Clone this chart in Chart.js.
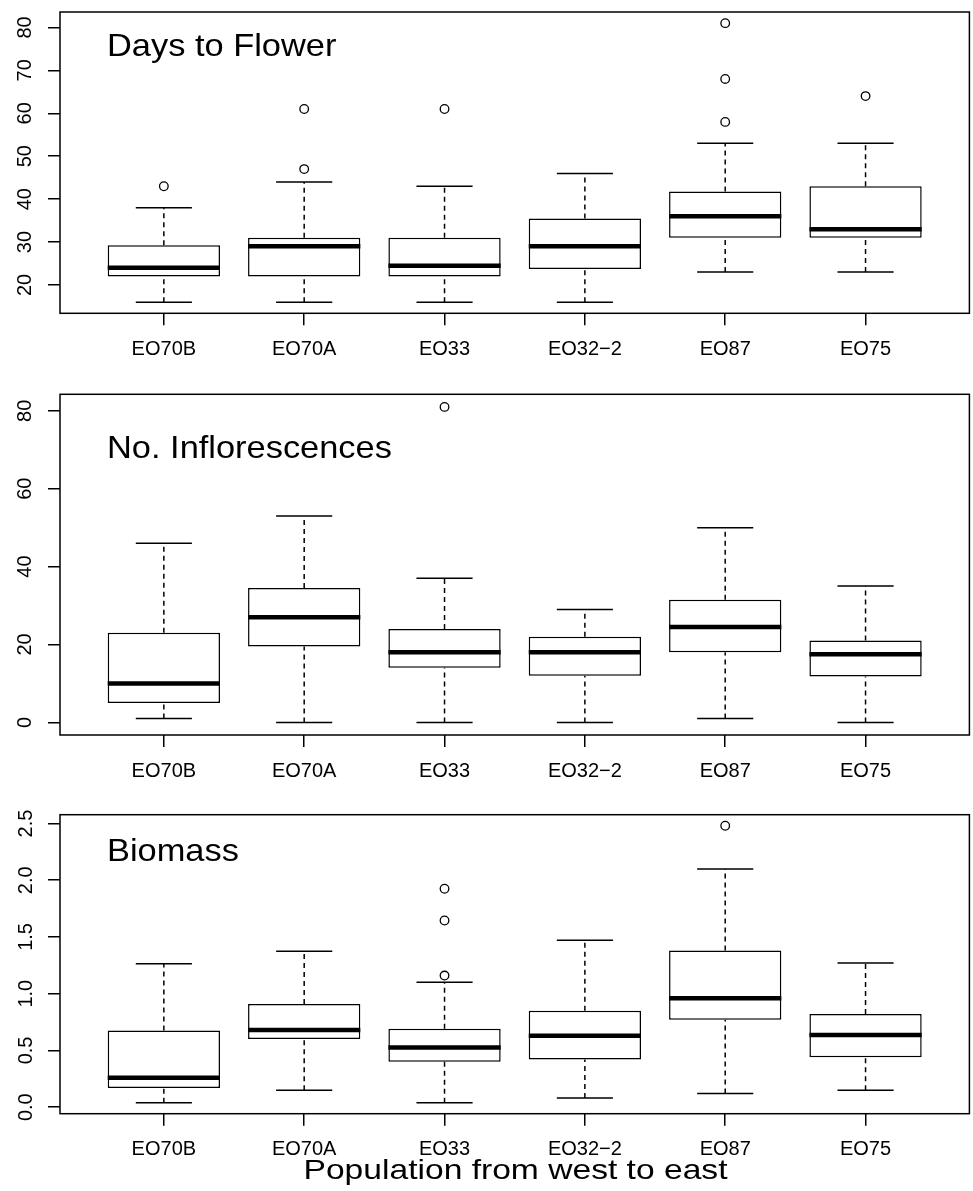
<!DOCTYPE html>
<html>
<head>
<meta charset="utf-8">
<title>Population boxplots</title>
<script src="https://cdn.jsdelivr.net/npm/chart.js@4.4.1/dist/chart.umd.min.js"></script>
<style>
  html, body { margin: 0; padding: 0; background: #fff; overflow: hidden; }
  #wrap { position: relative; width: 973px; height: 1191px; overflow: hidden; }
  .panel { position: absolute; left: 0; }
</style>
</head>
<body>
<div id="wrap">
  <canvas id="days" class="panel" width="975" height="375" style="top:0px"></canvas>
  <canvas id="infl" class="panel" width="975" height="405" style="top:375px"></canvas>
  <canvas id="biomass" class="panel" width="975" height="411" style="top:780px"></canvas>
</div>
<script>
// populations, west to east
const populations = ["EO70B", "EO70A", "EO33", "EO32\u22122", "EO87", "EO75"];

// days to flower
const daysLow = [16, 16, 16, 16, 23, 23];
const daysQ1 = [22, 22, 22, 23.75, 31, 31];
const daysMedian = [24, 29, 24.5, 29, 36, 33];
const daysQ3 = [29.25, 31, 31, 35.5, 41.75, 43];
const daysHigh = [38, 44, 43, 46, 53, 53];
const daysOutliers = [[43], [47, 61], [61], [], [58, 68, 81], [64]];
const daysTicks = [20, 30, 40, 50, 60, 70, 80];

// number of inflorescences
const inflLow = [1, 0, 0, 0, 1, 0];
const inflQ1 = [5, 19.5, 14, 12, 18, 11.75];
const inflMedian = [10, 27, 18, 18, 24.5, 17.5];
const inflQ3 = [23, 34.5, 24, 22, 31.5, 21];
const inflHigh = [46, 53, 37, 29, 50, 35];
const inflOutliers = [[], [], [81], [], [], []];
const inflTicks = [0, 20, 40, 60, 80];

// biomass
const bioLow = [0.04, 0.15, 0.04, 0.08, 0.12, 0.15];
const bioQ1 = [0.17, 0.6, 0.4, 0.42, 0.77, 0.44];
const bioMedian = [0.26, 0.68, 0.525, 0.63, 0.96, 0.635];
const bioQ3 = [0.675, 0.91, 0.69, 0.85, 1.38, 0.82];
const bioHigh = [1.265, 1.375, 1.1, 1.47, 2.1, 1.27];
const bioOutliers = [[], [], [1.16, 1.645, 1.925], [], [2.48], []];
const bioTicks = [0, 0.5, 1, 1.5, 2, 2.5];

const FONT = '"Liberation Sans", Arial, Helvetica, sans-serif';
Chart.defaults.font.family = FONT;
Chart.defaults.color = "#000";

// text drawn slightly wider than the font, like the original device
function wideText(ctx, text, x, y, size, stretch, align) {
  ctx.save();
  ctx.font = `${size}px ${FONT}`;
  ctx.fillStyle = "#000";
  ctx.textBaseline = "alphabetic";
  ctx.textAlign = align;
  ctx.translate(x, y);
  ctx.scale(stretch, 1);
  ctx.fillText(text, 0, 0);
  ctx.restore();
}

const panelText = {
  id: "panelText",
  afterDraw(chart, args, opts) {
    const { ctx, chartArea } = chart;
    wideText(ctx, opts.text, chartArea.left + opts.dx, chartArea.top + opts.dy, 32, 1.075, "left");
    if (opts.axisTitle) {
      const cx = (chartArea.left + chart.width - 4) / 2;
      wideText(ctx, opts.axisTitle, cx, chartArea.bottom + 65.6, 28, 1.2, "center");
    }
  },
};

const frame = {
  id: "frame",
  afterDraw(chart) {
    const { ctx, chartArea } = chart;
    ctx.save();
    ctx.strokeStyle = "#000";
    ctx.lineWidth = 1.5;
    ctx.strokeRect(chartArea.left, chartArea.top, chartArea.right - chartArea.left, chartArea.bottom - chartArea.top);
    ctx.restore();
  },
};

function segments(pairs) {
  // pairs: [[x0, y0, x1, y1], ...] -> points with gaps between segments
  const pts = [];
  pairs.forEach(([x0, y0, x1, y1]) => {
    pts.push({ x: x0, y: y0 }, { x: x1, y: y1 }, { x: x1, y: null });
  });
  return pts;
}

function makeBoxplot(p) {
  const n = populations.length;
  const all = p.low.concat(p.high, p.outliers.flat());
  const lo = Math.min(...all);
  const hi = Math.max(...all);
  const yPad = (hi - lo) * 0.04;
  const xPad = n * 0.04;

  const whiskers = [];
  const caps = [];
  const medians = [];
  const outliers = [];
  populations.forEach((_, i) => {
    const x = i + 1;
    whiskers.push([x, p.q3[i], x, p.high[i]], [x, p.low[i], x, p.q1[i]]);
    caps.push([x - 0.2, p.high[i], x + 0.2, p.high[i]], [x - 0.2, p.low[i], x + 0.2, p.low[i]]);
    medians.push([x - 0.4, p.median[i], x + 0.4, p.median[i]]);
    p.outliers[i].forEach((v) => outliers.push({ x: x, y: v }));
  });

  const lineSet = (data, width, dash, order) => ({
    type: "scatter",
    data: segments(data),
    showLine: true,
    spanGaps: false,
    borderColor: "#000",
    borderWidth: width,
    borderDash: dash,
    borderCapStyle: "butt",
    pointRadius: 0,
    order: order,
  });

  return new Chart(document.getElementById(p.id), {
    type: "bar",
    data: {
      datasets: [
        lineSet(whiskers, 1.5, [5, 4], 4),
        lineSet(caps, 1.5, [], 3),
        {
          type: "bar",
          data: populations.map((_, i) => ({ x: i + 1, y: [p.q1[i], p.q3[i]] })),
          backgroundColor: "#fff",
          borderColor: "#000",
          borderWidth: 1.5,
          borderSkipped: false,
          categoryPercentage: 1,
          barPercentage: 0.8,
          order: 2,
        },
        lineSet(medians, 4.5, [], 1),
        {
          type: "scatter",
          data: outliers,
          pointStyle: "circle",
          pointRadius: 4.3,
          borderWidth: 1.3,
          borderColor: "#000",
          backgroundColor: "rgba(0,0,0,0)",
          order: 0,
        },
      ],
    },
    options: {
      responsive: false,
      animation: false,
      events: [],
      layout: { padding: { top: p.padTop, left: 0, right: 0, bottom: 0 } },
      plugins: {
        legend: { display: false },
        tooltip: { enabled: false },
        panelText: { text: p.title, dx: 47, dy: p.titleDy, axisTitle: p.axisTitle },
      },
      scales: {
        x: {
          type: "linear",
          offset: false,
          min: 0.5 - xPad,
          max: n + 0.5 + xPad,
          afterBuildTicks: (scale) => {
            scale.ticks = populations.map((_, i) => ({ value: i + 1 }));
          },
          afterFit: (scale) => {
            scale.height = p.axisHeight;
            scale.paddingLeft = 0;
            scale.paddingRight = 0;
          },
          ticks: {
            autoSkip: false,
            maxRotation: 0,
            padding: 12,
            font: { size: 20 },
            callback: (v) => populations[v - 1],
          },
          grid: { offset: false, drawOnChartArea: false, drawTicks: true, tickLength: 12, color: "#000", lineWidth: 1.5 },
          border: { display: false },
        },
        y: {
          type: "linear",
          min: lo - yPad,
          max: hi + yPad,
          afterBuildTicks: (scale) => {
            scale.ticks = p.ticks.map((v) => ({ value: v }));
          },
          afterFit: (scale) => {
            scale.width = 60;
            scale.paddingTop = 0;
            scale.paddingBottom = 0;
          },
          ticks: {
            minRotation: 90,
            maxRotation: 90,
            crossAlign: "center",
            padding: p.labelPad,
            font: { size: 20 },
            callback: (v) => v.toFixed(p.decimals),
          },
          grid: { drawOnChartArea: false, drawTicks: true, tickLength: 12, color: "#000", lineWidth: 1.5 },
          border: { display: false },
        },
      },
    },
    plugins: [panelText, frame],
  });
}

makeBoxplot({
  id: "days", title: "Days to Flower", titleDy: 44, padTop: 12, axisHeight: 61.7, labelPad: 11,
  low: daysLow, q1: daysQ1, median: daysMedian, q3: daysQ3, high: daysHigh,
  outliers: daysOutliers, ticks: daysTicks, decimals: 0,
});
makeBoxplot({
  id: "infl", title: "No. Inflorescences", titleDy: 64, padTop: 19.3, axisHeight: 45, labelPad: 11,
  low: inflLow, q1: inflQ1, median: inflMedian, q3: inflQ3, high: inflHigh,
  outliers: inflOutliers, ticks: inflTicks, decimals: 0,
});
makeBoxplot({
  id: "biomass", title: "Biomass", titleDy: 46, padTop: 34.7, axisHeight: 77.3, labelPad: 8,
  low: bioLow, q1: bioQ1, median: bioMedian, q3: bioQ3, high: bioHigh,
  outliers: bioOutliers, ticks: bioTicks, decimals: 1,
  axisTitle: "Population from west to east",
});
</script>
</body>
</html>
